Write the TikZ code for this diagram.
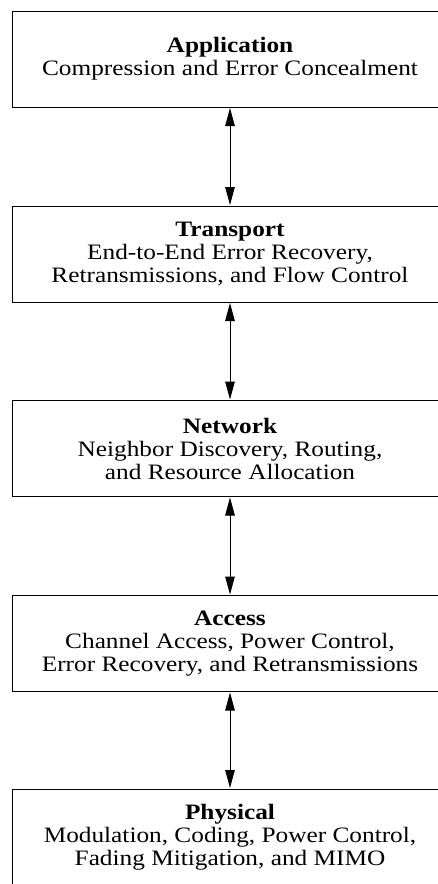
\documentclass[tikz,border=0pt]{standalone}
\usepackage{fontspec}
\setmainfont{Liberation Serif}[FakeStretch=1.15]
\usetikzlibrary{arrows.meta}
\begin{document}
\begin{tikzpicture}[x=1pt,y=1pt,
  layer/.style={draw=black, line width=1pt, minimum width=436pt, minimum height=96pt,
    inner sep=0pt, align=center, font=\fontsize{22}{23}\selectfont},
  link/.style={line width=1pt, {Triangle[length=18pt,width=9.5pt]}-{Triangle[length=18pt,width=9.5pt]}, shorten <=0.5pt, shorten >=0.5pt}]
\clip (0,0) rectangle (438,-884);
\useasboundingbox (0,0) rectangle (438,-884);
\fill[white] (0,0) rectangle (438,-884);
\node[layer] (app) at (230,-59) {\textbf{Application}\\Compression and Error Concealment};
\node[layer] (tra) at (230,-254) {\textbf{Transport}\\End-to-End Error Recovery,\\Retransmissions, and Flow Control};
\node[layer] (net) at (230,-448.5) {\textbf{Network}\\Neighbor Discovery, Routing,\\and Resource Allocation};
\node[layer] (acc) at (230,-643.5) {\textbf{Access}\\Channel Access, Power Control,\\Error Recovery, and Retransmissions};
\node[layer] (phy) at (230,-837) {\textbf{Physical}\\Modulation, Coding, Power Control,\\Fading Mitigation, and MIMO};
\draw[link] (app.south) -- (tra.north);
\draw[link] (tra.south) -- (net.north);
\draw[link] (net.south) -- (acc.north);
\draw[link] (acc.south) -- (phy.north);
\end{tikzpicture}
\end{document}
